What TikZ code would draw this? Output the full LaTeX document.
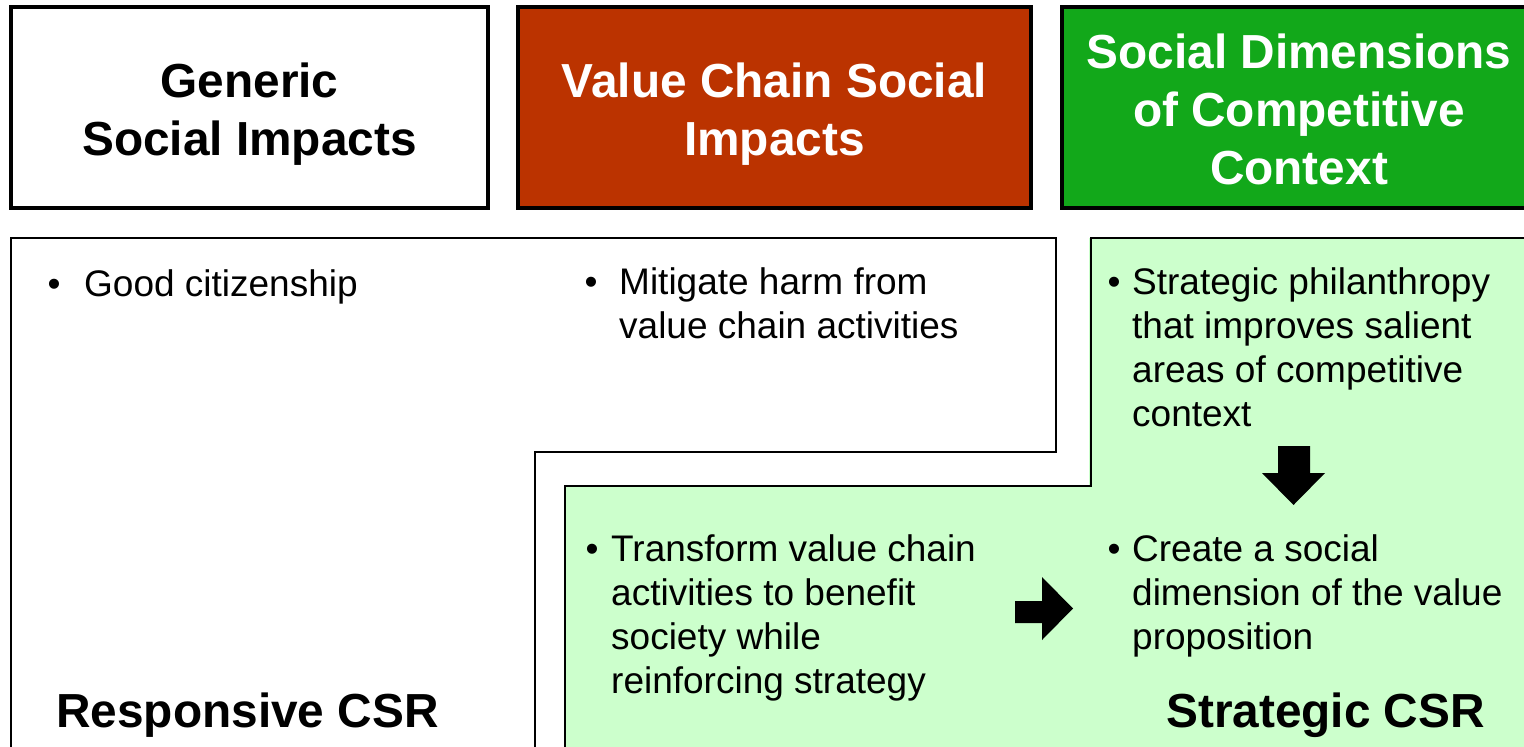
\documentclass[tikz,border=0pt]{standalone}
\usepackage{fontspec}
\setmainfont{Liberation Sans}
\definecolor{boxred}{HTML}{BB3300}
\definecolor{boxgreen}{HTML}{12A81A}
\definecolor{lightgreen}{HTML}{CCFFCC}
\begin{document}
\begin{tikzpicture}[x=1pt,y=-1pt,
  topbox/.style={line width=4pt, draw=black},
  region/.style={line width=2pt, draw=black},
  title/.style={font=\fontsize{47.8}{58}\selectfont\bfseries, align=center, inner sep=0pt, anchor=base},
  bigtag/.style={font=\fontsize{47.8}{58}\selectfont\bfseries, inner sep=0pt, anchor=base west},
  item/.style={font=\fontsize{37}{44}\selectfont, align=left, inner sep=0pt, anchor=base west},
  bul/.style={font=\fontsize{37}{44}\selectfont, inner sep=0pt, anchor=base},
  blk/.style={fill=black}]
\useasboundingbox (0,0) rectangle (1524,747);
\clip (0,0) rectangle (1524,747);
\fill[white] (0,0) rectangle (1524,747);
% green region (Strategic CSR)
\fill[lightgreen] (1089,238) -- (1540,238) -- (1540,760) -- (565,760) -- (565,486) -- (1089,486) -- cycle;
\draw[region] (1540,238) -- (1091,238) -- (1091,486) -- (565,486) -- (565,760);
% white region (Responsive CSR)
\draw[region] (11,760) -- (11,238) -- (1056,238) -- (1056,452) -- (535,452) -- (535,760);
% top boxes
\draw[topbox, fill=white] (11,7) rectangle (488,208);
\draw[topbox, fill=boxred] (518,7) rectangle (1031,208);
\draw[topbox, fill=boxgreen] (1062,7) rectangle (1536,208);
% (anchor base = baseline of the last line)
\node[title] (gen) at (249.5,155) {Generic\\Social Impacts};
\node[title, text=white] (vcs) at (774.5,155) {Value Chain Social\\Impacts};
\node[title, text=white] (sdc) at (1299,184) {Social Dimensions\\of Competitive\\Context};
% bullets
\node[bul] (b1) at (54,296) {•};
\node[item] (t1) at (84,296) {Good citizenship};
\node[bul] (b2) at (591,294) {•};
\node[item] (t2) at (619,338) {Mitigate harm from\\value chain activities};
\node[bul] (b3) at (1114,294) {•};
\node[item] (t3) at (1132,426) {Strategic philanthropy\\that improves salient\\areas of competitive\\context};
\node[bul] (b4) at (592,561) {•};
\node[item] (t4) at (611,693) {Transform value chain\\activities to benefit\\society while\\reinforcing strategy};
\node[bul] (b5) at (1114,561) {•};
\node[item] (t5) at (1132,649) {Create a social\\dimension of the value\\proposition};
% block arrows
\fill[blk] (1278,446) -- (1310,446) -- (1310,473) -- (1325,473) -- (1293.5,505) -- (1262,473) -- (1278,473) -- cycle;
\fill[blk] (1015,601) -- (1042,601) -- (1042,577) -- (1073,608.5) -- (1042,640) -- (1042,623) -- (1015,623) -- cycle;
% labels
\node[bigtag] (rcsr) at (56,727) {Responsive CSR};
\node[bigtag] (scsr) at (1166,727) {Strategic CSR};
\end{tikzpicture}
\end{document}
